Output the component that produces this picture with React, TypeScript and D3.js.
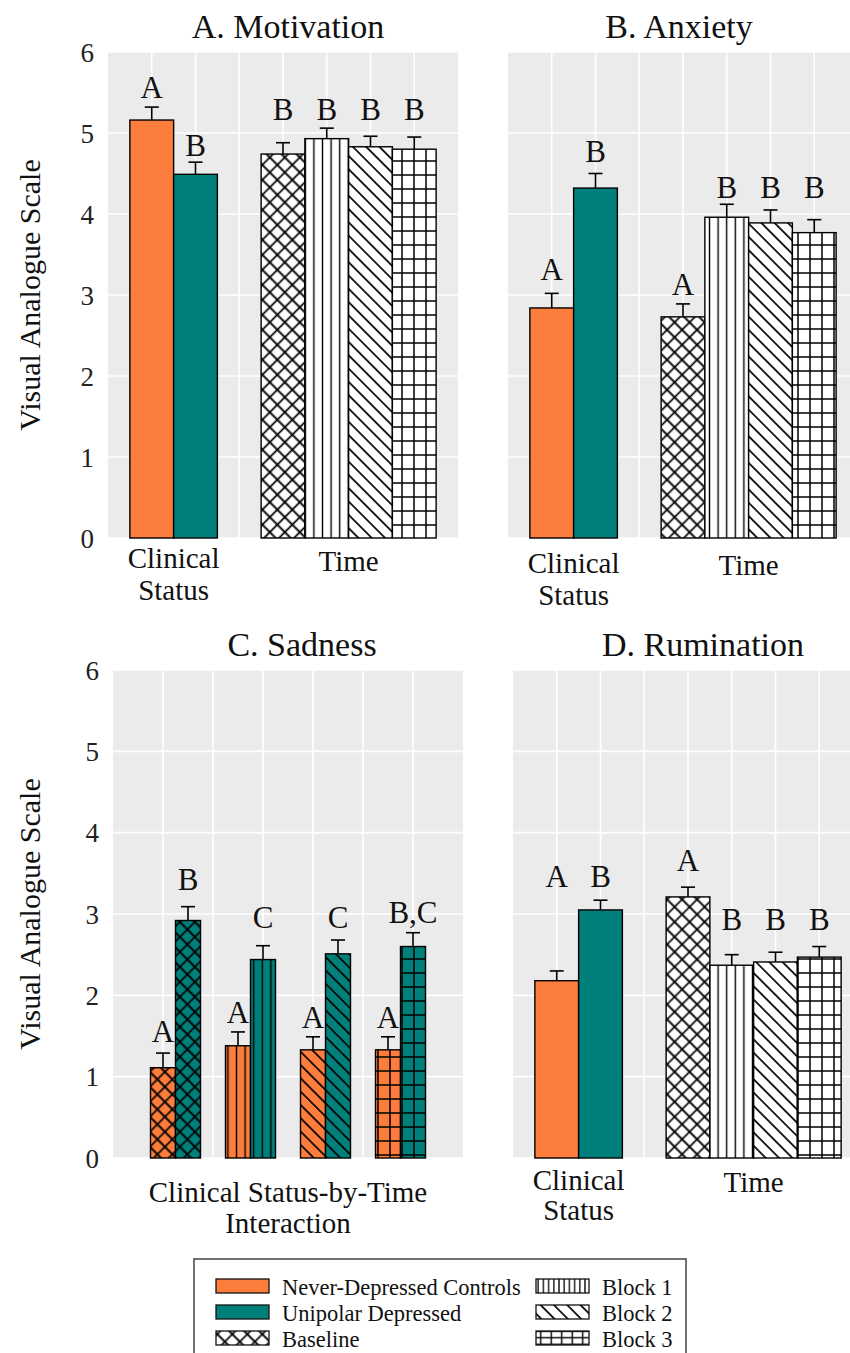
import React from "react";
import * as d3 from "d3";

// ---------- DATA ----------
const statusGroups = ["Never-Depressed Controls", "Unipolar Depressed"];
const timePoints = ["Baseline", "Block 1", "Block 2", "Block 3"];
const yTicks = [0, 1, 2, 3, 4, 5, 6];

// A. Motivation
const motivationStatus = [5.16, 4.49];
const motivationStatusErr = [0.16, 0.15];
const motivationStatusLetters = ["A", "B"];
const motivationStatusLetterY = [5.43, 4.72];
const motivationTime = [4.74, 4.93, 4.83, 4.8];
const motivationTimeErr = [0.14, 0.13, 0.13, 0.15];
const motivationTimeLetters = ["B", "B", "B", "B"];
const motivationTimeLetterY = [5.16, 5.16, 5.16, 5.16];

// B. Anxiety
const anxietyStatus = [2.84, 4.32];
const anxietyStatusErr = [0.18, 0.18];
const anxietyStatusLetters = ["A", "B"];
const anxietyStatusLetterY = [3.19, 4.64];
const anxietyTime = [2.73, 3.96, 3.89, 3.77];
const anxietyTimeErr = [0.16, 0.16, 0.16, 0.16];
const anxietyTimeLetters = ["A", "B", "B", "B"];
const anxietyTimeLetterY = [3.0, 4.2, 4.2, 4.2];

// C. Sadness (interaction)
const sadnessControls = [1.11, 1.38, 1.33, 1.33];
const sadnessControlsErr = [0.18, 0.17, 0.16, 0.16];
const sadnessControlsLetters = ["A", "A", "A", "A"];
const sadnessControlsLetterY = [1.43, 1.66, 1.6, 1.6];
const sadnessDepressed = [2.92, 2.44, 2.51, 2.6];
const sadnessDepressedErr = [0.17, 0.17, 0.17, 0.17];
const sadnessDepressedLetters = ["B", "C", "C", "B,C"];
const sadnessDepressedLetterY = [3.3, 2.83, 2.83, 2.89];

// D. Rumination
const ruminationStatus = [2.18, 3.05];
const ruminationStatusErr = [0.12, 0.12];
const ruminationStatusLetters = ["A", "B"];
const ruminationStatusLetterY = [3.33, 3.33];
const ruminationTime = [3.21, 2.37, 2.41, 2.47];
const ruminationTimeErr = [0.12, 0.13, 0.12, 0.13];
const ruminationTimeLetters = ["A", "B", "B", "B"];
const ruminationTimeLetterY = [3.53, 2.8, 2.8, 2.8];

// ---------- STYLE ----------
const FONT = "'Liberation Serif', 'Times New Roman', serif";
const ORANGE = "#FC7D3C";
const TEAL = "#007F7B";
const PANEL_BG = "#EBEBEB";
const statusColors = [ORANGE, TEAL];
const timePatterns = ["pCross", "pVert", "pDiag", "pGrid"];

type Bar = {
  pos: number;
  width: number;
  value: number;
  err: number;
  fill: string;
  pattern: string | null;
  letter: string;
  letterY: number;
};

function statusTimeBars(
  sv: number[], se: number[], sl: string[], sy: number[],
  tv: number[], te: number[], tl: string[], ty: number[]
): Bar[] {
  const bars: Bar[] = [];
  statusGroups.forEach((_, i) =>
    bars.push({ pos: 1 + i, width: 1, value: sv[i], err: se[i], fill: statusColors[i], pattern: null, letter: sl[i], letterY: sy[i] })
  );
  timePoints.forEach((_, i) =>
    bars.push({ pos: 4 + i, width: 1, value: tv[i], err: te[i], fill: "#FFFFFF", pattern: timePatterns[i], letter: tl[i], letterY: ty[i] })
  );
  return bars;
}

function interactionBars(): Bar[] {
  const bars: Bar[] = [];
  const centers = [1.25, 2.75, 4.25, 5.75];
  timePoints.forEach((_, i) => {
    bars.push({ pos: centers[i] - 0.25, width: 0.5, value: sadnessControls[i], err: sadnessControlsErr[i], fill: ORANGE, pattern: timePatterns[i], letter: sadnessControlsLetters[i], letterY: sadnessControlsLetterY[i] });
    bars.push({ pos: centers[i] + 0.25, width: 0.5, value: sadnessDepressed[i], err: sadnessDepressedErr[i], fill: TEAL, pattern: timePatterns[i], letter: sadnessDepressedLetters[i], letterY: sadnessDepressedLetterY[i] });
  });
  return bars;
}

type XLabel = { pos: number; lines: string[]; baseline: number[] };

type PanelProps = {
  title: string;
  titleX: number;
  titleY: number;
  x0: number;
  x1: number;
  xMax: number;
  yBottom: number;
  yTop: number;
  bars: Bar[];
  xLabels: XLabel[];
  showY: boolean;
};

function Panel(p: PanelProps) {
  const x = d3.scaleLinear().domain([0, p.xMax]).range([p.x0, p.x1]);
  const y = d3.scaleLinear().domain([0, 6]).range([p.yBottom, p.yTop]);
  const vGrid = d3.range(1, p.xMax);
  const hGrid = yTicks;
  const capW = 14;
  return (
    <g>
      <rect x={p.x0} y={p.yTop} width={p.x1 - p.x0} height={p.yBottom - p.yTop} fill={PANEL_BG} />
      {hGrid.map((t) => (
        <line key={"h" + t} x1={p.x0} x2={p.x1} y1={y(t)} y2={y(t)} stroke="#FFFFFF" strokeWidth={1.6} />
      ))}
      {vGrid.map((t) => (
        <line key={"v" + t} x1={x(t)} x2={x(t)} y1={p.yTop} y2={p.yBottom} stroke="#FFFFFF" strokeWidth={1.6} />
      ))}
      {p.bars.map((b, i) => {
        const xl = x(b.pos - b.width / 2);
        const xr = x(b.pos + b.width / 2);
        const cx = x(b.pos);
        const top = y(b.value);
        const capY = y(b.value + b.err);
        return (
          <g key={"b" + i}>
            <line x1={cx} x2={cx} y1={top} y2={capY} stroke="#000" strokeWidth={1.6} />
            <line x1={cx - capW / 2} x2={cx + capW / 2} y1={capY} y2={capY} stroke="#000" strokeWidth={1.6} />
            <rect x={xl} y={top} width={xr - xl} height={p.yBottom - top} fill={b.fill} />
            {b.pattern && (
              <rect x={xl} y={top} width={xr - xl} height={p.yBottom - top} fill={`url(#${b.pattern})`} />
            )}
            <rect x={xl} y={top} width={xr - xl} height={p.yBottom - top} fill="none" stroke="#000" strokeWidth={1.4} />
            <text x={cx} y={y(b.letterY)} textAnchor="middle" fontSize={31} fontFamily={FONT} fill="#111">
              {b.letter}
            </text>
          </g>
        );
      })}
      {p.showY &&
        yTicks.map((t) => (
          <text key={"yt" + t} x={p.x0 - 14} y={y(t)} dy="0.36em" textAnchor="end" fontSize={27} fontFamily={FONT} fill="#222">
            {t}
          </text>
        ))}
      {p.showY && (
        <text
          transform={`translate(40,${(p.yTop + p.yBottom) / 2}) rotate(-90)`}
          textAnchor="middle"
          fontSize={30}
          fontFamily={FONT}
          fill="#111"
        >
          Visual Analogue Scale
        </text>
      )}
      {p.xLabels.map((l, i) =>
        l.lines.map((line, j) => (
          <text key={"xl" + i + "_" + j} x={x(l.pos)} y={l.baseline[j]} textAnchor="middle" fontSize={29} fontFamily={FONT} fill="#111">
            {line}
          </text>
        ))
      )}
      <text x={p.titleX} y={p.titleY} textAnchor="middle" fontSize={34} fontFamily={FONT} fill="#111">
        {p.title}
      </text>
    </g>
  );
}

function PatternDefs() {
  const sw = 1.7;
  return (
    <defs>
      <pattern id="pCross" patternUnits="userSpaceOnUse" width={10.6} height={10.6} patternTransform="rotate(45)">
        <path d="M5.3 0 V10.6 M0 5.3 H10.6" stroke="#000" strokeWidth={sw} />
      </pattern>
      <pattern id="pVert" patternUnits="userSpaceOnUse" width={8.6} height={10}>
        <path d="M4.3 0 V10" stroke="#000" strokeWidth={1.4} />
      </pattern>
      <pattern id="pDiag" patternUnits="userSpaceOnUse" width={9.4} height={9.4} patternTransform="rotate(-45)">
        <path d="M4.7 0 V9.4" stroke="#000" strokeWidth={sw} />
      </pattern>
      <pattern id="pGrid" patternUnits="userSpaceOnUse" width={12} height={14}>
        <path d="M6 0 V14 M0 7 H12" stroke="#000" strokeWidth={1.5} />
      </pattern>
      <pattern id="lVert" patternUnits="userSpaceOnUse" width={5.2} height={10}>
        <path d="M2.6 0 V10" stroke="#000" strokeWidth={1.3} />
      </pattern>
      <pattern id="lGrid" patternUnits="userSpaceOnUse" width={10.5} height={6.5} y={2}>
        <path d="M5.25 0 V6.5 M0 3.25 H10.5" stroke="#000" strokeWidth={1.4} />
      </pattern>
    </defs>
  );
}

const legendItems = [
  { label: statusGroups[0], fill: ORANGE, pattern: null as string | null, col: 0, row: 0 },
  { label: statusGroups[1], fill: TEAL, pattern: null as string | null, col: 0, row: 1 },
  { label: timePoints[0], fill: "#FFFFFF", pattern: "pCross", col: 0, row: 2 },
  { label: timePoints[1], fill: "#FFFFFF", pattern: "lVert", col: 1, row: 0 },
  { label: timePoints[2], fill: "#FFFFFF", pattern: "pDiag", col: 1, row: 1 },
  { label: timePoints[3], fill: "#FFFFFF", pattern: "lGrid", col: 1, row: 2 },
];

function Legend() {
  const colX = [216, 536];
  const rowY = [1286, 1312, 1338];
  return (
    <g>
      <rect x={194} y={1259} width={492} height={110} fill="#FFFFFF" stroke="#444" strokeWidth={1.5} />
      {legendItems.map((it, i) => (
        <g key={"lg" + i}>
          <rect x={colX[it.col]} y={rowY[it.row] - 7} width={53} height={14} fill={it.fill} />
          {it.pattern && <rect x={colX[it.col]} y={rowY[it.row] - 7} width={53} height={14} fill={`url(#${it.pattern})`} />}
          <rect x={colX[it.col]} y={rowY[it.row] - 7} width={53} height={14} fill="none" stroke="#111" strokeWidth={1.3} />
          <text x={colX[it.col] + 66} y={rowY[it.row] + 9} fontSize={22.5} fontFamily={FONT} fill="#111">
            {it.label}
          </text>
        </g>
      ))}
    </g>
  );
}

export default function App() {
  const barsA = statusTimeBars(motivationStatus, motivationStatusErr, motivationStatusLetters, motivationStatusLetterY, motivationTime, motivationTimeErr, motivationTimeLetters, motivationTimeLetterY);
  const barsB = statusTimeBars(anxietyStatus, anxietyStatusErr, anxietyStatusLetters, anxietyStatusLetterY, anxietyTime, anxietyTimeErr, anxietyTimeLetters, anxietyTimeLetterY);
  const barsC = interactionBars();
  const barsD = statusTimeBars(ruminationStatus, ruminationStatusErr, ruminationStatusLetters, ruminationStatusLetterY, ruminationTime, ruminationTimeErr, ruminationTimeLetters, ruminationTimeLetterY);

  return (
    <div style={{ position: "absolute", left: 0, top: 0, width: 850, height: 1353, overflow: "hidden", background: "#fff" }}>
      <svg width={850} height={1353} style={{ display: "block" }}>
        <PatternDefs />
        <rect x={0} y={0} width={850} height={1353} fill="#FFFFFF" />
        <Panel
          title="A. Motivation" titleX={288} titleY={38}
          x0={108} x1={458} xMax={8} yBottom={538} yTop={52}
          bars={barsA}
          xLabels={[
            { pos: 1.5, lines: ["Clinical", "Status"], baseline: [568, 600] },
            { pos: 5.5, lines: ["Time"], baseline: [571] },
          ]}
          showY={true}
        />
        <Panel
          title="B. Anxiety" titleX={679} titleY={38}
          x0={508} x1={858} xMax={8} yBottom={538} yTop={52}
          bars={barsB}
          xLabels={[
            { pos: 1.5, lines: ["Clinical", "Status"], baseline: [573, 605] },
            { pos: 5.5, lines: ["Time"], baseline: [575] },
          ]}
          showY={false}
        />
        <Panel
          title="C. Sadness" titleX={302} titleY={656}
          x0={113} x1={463} xMax={7} yBottom={1158} yTop={670}
          bars={barsC}
          xLabels={[{ pos: 3.5, lines: ["Clinical Status-by-Time", "Interaction"], baseline: [1202, 1233] }]}
          showY={true}
        />
        <Panel
          title="D. Rumination" titleX={703} titleY={656}
          x0={513} x1={863} xMax={8} yBottom={1158} yTop={670}
          bars={barsD}
          xLabels={[
            { pos: 1.5, lines: ["Clinical", "Status"], baseline: [1190, 1220] },
            { pos: 5.5, lines: ["Time"], baseline: [1192] },
          ]}
          showY={false}
        />
        <Legend />
      </svg>
    </div>
  );
}
